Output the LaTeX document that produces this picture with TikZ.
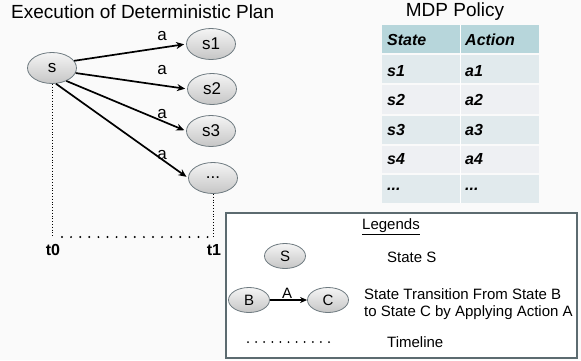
\documentclass[tikz,border=0pt]{standalone}
\usepackage{fontspec}
\setmainfont{Liberation Sans}
\usetikzlibrary{shapes.geometric,arrows.meta}
\definecolor{bgc}{HTML}{FAFAFA}
\definecolor{nodeborder}{HTML}{6E7A80}
\definecolor{hdr}{HTML}{B7D6DB}
\definecolor{rowA}{HTML}{E1EAED}
\definecolor{rowB}{HTML}{EEF0F3}
\definecolor{legborder}{HTML}{5C6B70}
\tikzset{
  state/.style={ellipse, draw=nodeborder, line width=0.8pt, top color=white!92!gray, bottom color=gray!45,
    minimum width=49pt, minimum height=31pt, inner sep=0pt, font=\fontsize{17}{17}\selectfont},
  smallstate/.style={state, minimum width=41pt, minimum height=25pt, font=\fontsize{15}{15}\selectfont},
  trans/.style={-{Stealth[length=8pt,width=7pt]}, line width=1.7pt, shorten >=2pt},
  alabel/.style={font=\fontsize{17}{17}\selectfont, inner sep=0pt},
  fine/.style={dotted, line width=0.8pt},
  bigdots/.style={line width=2.2pt, line cap=round, dash pattern=on 0pt off 9.1pt},
  tlabel/.style={font=\bfseries\fontsize{16}{16}\selectfont, inner sep=0pt},
  cell/.style={font=\bfseries\itshape\fontsize{16}{16}\selectfont, inner sep=0pt, anchor=west},
  legtext/.style={font=\fontsize{15}{17}\selectfont, inner sep=0pt, anchor=west, align=left},
}
\begin{document}
\begin{tikzpicture}[x=1pt,y=-1pt]
\fill[bgc] (0,0) rectangle (581,360);
\useasboundingbox (0,0) rectangle (581,360);

% Title
\node[font=\fontsize{19}{19}\selectfont, inner sep=0pt, anchor=west] (title) at (11,12) {Execution of Deterministic Plan};

% states
\node[state] (s) at (52,68) {s};
\node[state] (s1) at (211,44) {s1};
\node[state] (s2) at (212,89) {s2};
\node[state] (s3) at (211,131) {s3};
\node[state] (s4) at (213,178) {...};

\draw[trans] (s.18) -- (s1.west);
\draw[trans] (s.-12) -- (s2.west);
\draw[trans] (s.-42) -- (s3.west);
\draw[trans] (s.-76) -- (s4.west);

\node[alabel] (a1) at (162,36) {a};
\node[alabel] (a2) at (162,70) {a};
\node[alabel] (a3) at (162,114) {a};
\node[alabel] (a4) at (162,155) {a};

% timeline
\coordinate (c0) at (52,237);
\coordinate (c1) at (213,237);
\coordinate (h0) at (62,237);
\coordinate (h1) at (209,237);
\draw[fine] (s.south) -- (c0);
\draw[fine] (s4.south) -- (c1);
\draw[bigdots] (h0) -- (h1);
\node[tlabel] (t0) at (53,250) {t0};
\node[tlabel] (t1) at (214,250) {t1};

% MDP policy table
\node[font=\fontsize{19}{19}\selectfont, inner sep=0pt] (mdp) at (455,12) {MDP Policy};
\fill[hdr] (382,25) rectangle (539,53);
\fill[rowA] (382,55) rectangle (539,83);
\fill[rowB] (382,84.5) rectangle (539,114);
\fill[rowA] (382,115.5) rectangle (539,144);
\fill[rowB] (382,145.5) rectangle (539,173);
\fill[rowA] (382,174.5) rectangle (539,203);
\draw[white, line width=1pt] (460,25) -- (460,203);
\node[cell] (h1c) at (387,40) {State};
\node[cell] (h2c) at (465,40) {Action};
\node[cell] (r1a) at (387,71) {s1};
\node[cell] (r1b) at (465,71) {a1};
\node[cell] (r2a) at (387,100) {s2};
\node[cell] (r2b) at (465,100) {a2};
\node[cell] (r3a) at (387,130) {s3};
\node[cell] (r3b) at (465,130) {a3};
\node[cell] (r4a) at (387,159) {s4};
\node[cell] (r4b) at (465,159) {a4};
\node[cell] (r5a) at (387,189) {...};
\node[cell] (r5b) at (465,189) {...};

% Legend
\draw[legborder, fill=white, line width=1.1pt] (226,213) rectangle (577,358);
\node[font=\fontsize{15}{15}\selectfont, inner sep=0pt] (leg) at (391,227) {\underline{Legends}};
\node[smallstate] (S) at (285,256) {S};
\node[legtext] (tS) at (387,257) {State S};
\node[smallstate] (B) at (249,300) {B};
\node[smallstate] (C) at (328,300) {C};
\draw[-{Stealth[length=7pt,width=6pt]}, line width=1.3pt] (B.east) -- (C.west);
\node[font=\fontsize{15}{15}\selectfont, inner sep=0pt] (A) at (287,293) {A};
\node[legtext] (tT) at (364,304) {State Transition From State B\\to State C by Applying Action A};
\coordinate (l0) at (248,342);
\coordinate (l1) at (329,342);
\draw[line width=2pt, line cap=round, dash pattern=on 0pt off 8.1pt] (l0) -- (l1);
\node[legtext] (tL) at (387,342) {Timeline};
\end{tikzpicture}
\end{document}
